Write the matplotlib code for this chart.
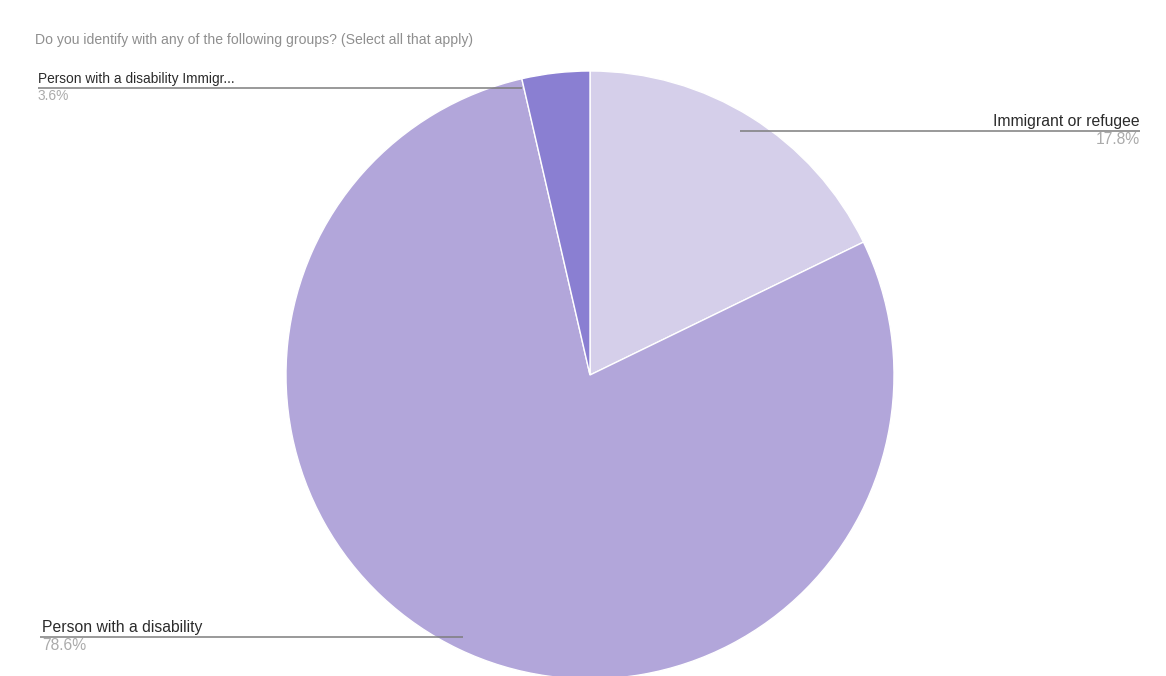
import matplotlib.pyplot as plt

# survey answers, clockwise from 12 o'clock
groups = ["Immigrant or refugee", "Person with a disability", "Person with a disability Immigr..."]
shares = [17.8, 78.6, 3.6]
colors = ["#d5cfea", "#b2a6da", "#8a7fd2"]
title = "Do you identify with any of the following groups? (Select all that apply)"

W, H = 1166, 676
fig = plt.figure(figsize=(W / 100, H / 100), dpi=100)
ax = fig.add_axes([0, 0, 1, 1])

# pie sits in pixel-like coords, y flipped so 0 is the bottom edge
cx, cy, r = 590, H - 375, 304
ax.pie(shares, colors=colors, startangle=90, counterclock=False,
       center=(cx, cy), radius=r, frame=True,
       wedgeprops=dict(edgecolor="white", linewidth=1.0))
ax.set_xlim(0, W)
ax.set_ylim(0, H)
ax.set_aspect("equal")
ax.axis("off")

ax.text(35, H - 40, title, fontsize=10.1, color="#8f8f8f", va="center", ha="left",
        family="Liberation Sans")

# label layout: (text x, line y, line start x, line end x, align, font size)
label_pos = [
    (1140, 131, 740, 1140, "right", 11.3),
    (42, 637, 40, 463, "left", 11.3),
    (38, 88, 38, 522, "left", 9.9),
]
for name, val, (tx, ly, x0, x1, ha, fs) in zip(groups, shares, label_pos):
    ax.plot([x0, x1], [H - ly, H - ly], color="#7d7d7d", linewidth=1.1, solid_capstyle="butt")
    ax.text(tx, H - ly + 2, name, fontsize=fs, color="#2b2b2b", ha=ha, va="bottom",
            family="Liberation Sans")
    ax.text(tx, H - ly - 1, f"{val}%", fontsize=fs, color="#ababab", ha=ha, va="top",
            family="Liberation Sans")

fig.savefig("out.png", dpi=100, facecolor="white")
